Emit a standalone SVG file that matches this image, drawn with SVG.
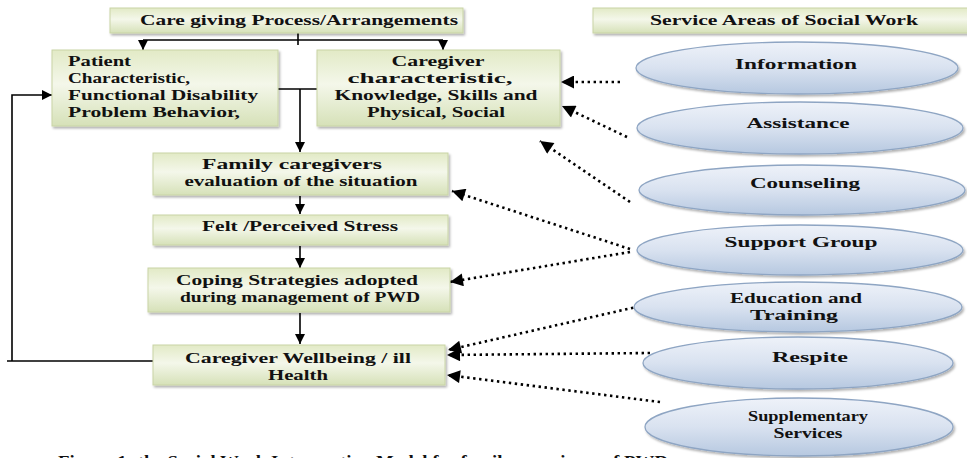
<svg xmlns="http://www.w3.org/2000/svg" width="967" height="458" viewBox="0 0 967 458">
<defs>
<linearGradient id="gb" x1="0" y1="0" x2="0" y2="1">
<stop offset="0" stop-color="#e2eac6"/>
<stop offset="0.45" stop-color="#f4f7ea"/>
<stop offset="1" stop-color="#d6e1b8"/>
</linearGradient>
<linearGradient id="ge" x1="0" y1="0" x2="0" y2="1">
<stop offset="0" stop-color="#eef2f9"/>
<stop offset="0.5" stop-color="#d9e2f0"/>
<stop offset="1" stop-color="#b6c8e0"/>
</linearGradient>
<filter id="sh" x="-10%" y="-20%" width="120%" height="150%">
<feDropShadow dx="1.5" dy="2" stdDeviation="1.2" flood-color="#000" flood-opacity="0.3"/>
</filter>
<marker id="ah" markerUnits="userSpaceOnUse" viewBox="0 0 10 10" refX="10" refY="5" markerWidth="11" markerHeight="10" orient="auto">
<path d="M0,0 L10,5 L0,10 z" fill="#000"/>
</marker>
<marker id="dh" markerUnits="userSpaceOnUse" viewBox="0 0 10 10" refX="10" refY="5" markerWidth="17" markerHeight="13" orient="auto">
<path d="M0,0 L10,5 L0,10 z" fill="#000"/>
</marker>
</defs>
<style>
.box{fill:url(#gb);stroke:#c9d4a6;stroke-width:1;filter:url(#sh)}
.ell{fill:url(#ge);stroke:#8ea5c3;stroke-width:1.3;filter:url(#sh)}
.t{font-family:"Liberation Serif","Times New Roman",serif;font-weight:bold;font-size:15px;fill:#111}
.m{text-anchor:middle}
.sl{fill:none;stroke:#000;stroke-width:1.6}
.dl{fill:none;stroke:#000;stroke-width:2.6;stroke-dasharray:2.4 3.6}
</style>
<rect width="967" height="458" fill="#fff"/>

<g id="connectors">
<line class="sl" x1="298" y1="33" x2="298" y2="45"/>
<line class="sl" x1="143" y1="40" x2="443" y2="40"/>
<line class="sl" x1="143" y1="40" x2="143" y2="50" marker-end="url(#ah)"/>
<line class="sl" x1="443" y1="40" x2="443" y2="50" marker-end="url(#ah)"/>
<line class="sl" x1="278" y1="89" x2="317" y2="89"/>
<line class="sl" x1="300" y1="89" x2="300" y2="152" marker-end="url(#ah)"/>
<line class="sl" x1="300" y1="196" x2="300" y2="214" marker-end="url(#ah)"/>
<line class="sl" x1="300" y1="246" x2="300" y2="268" marker-end="url(#ah)"/>
<line class="sl" x1="300" y1="313" x2="300" y2="344" marker-end="url(#ah)"/>
<path class="sl" d="M153,361 H7"/>
<path class="sl" d="M12,361 V95 H52" marker-end="url(#ah)"/>
<line class="dl" x1="620" y1="82" x2="561" y2="82" marker-end="url(#dh)"/>
<line class="dl" x1="627" y1="137" x2="562" y2="106" marker-end="url(#dh)"/>
<line class="dl" x1="630" y1="202" x2="540" y2="141" marker-end="url(#dh)"/>
<line class="dl" x1="630" y1="249" x2="452" y2="191" marker-end="url(#dh)"/>
<line class="dl" x1="630" y1="252" x2="450" y2="282" marker-end="url(#dh)"/>
<line class="dl" x1="645" y1="305" x2="448" y2="350" marker-end="url(#dh)"/>
<line class="dl" x1="650" y1="353" x2="447" y2="355" marker-end="url(#dh)"/>
<line class="dl" x1="660" y1="402" x2="447" y2="375" marker-end="url(#dh)"/>
</g>

<g id="n-caregiving">
<rect class="box" x="110" y="8" width="353" height="25"/>
<text class="t m" x="299" y="25" textLength="318" lengthAdjust="spacingAndGlyphs">Care giving Process/Arrangements</text>
</g>
<g id="n-service">
<rect class="box" x="593" y="8" width="380" height="25"/>
<text class="t m" x="784" y="25" textLength="268" lengthAdjust="spacingAndGlyphs">Service Areas of Social Work</text>
</g>
<g id="n-patient">
<rect class="box" x="52" y="50" width="226" height="76"/>
<text class="t" x="68" y="66" textLength="63" lengthAdjust="spacingAndGlyphs">Patient</text>
<text class="t" x="68" y="83" textLength="122" lengthAdjust="spacingAndGlyphs">Characteristic,</text>
<text class="t" x="68" y="100" textLength="190" lengthAdjust="spacingAndGlyphs">Functional Disability</text>
<text class="t" x="68" y="117" textLength="172" lengthAdjust="spacingAndGlyphs">Problem Behavior,</text>
</g>
<g id="n-caregiverchar">
<rect class="box" x="317" y="50" width="243" height="76"/>
<text class="t m" x="438" y="66" textLength="93" lengthAdjust="spacingAndGlyphs">Caregiver</text>
<text class="t m" x="430" y="83" textLength="165" lengthAdjust="spacingAndGlyphs">characteristic,</text>
<text class="t m" x="436" y="100" textLength="203" lengthAdjust="spacingAndGlyphs">Knowledge, Skills and</text>
<text class="t m" x="436" y="117" textLength="138" lengthAdjust="spacingAndGlyphs">Physical, Social</text>
</g>
<g id="n-family">
<rect class="box" x="153" y="153" width="295" height="42"/>
<text class="t m" x="292" y="169" textLength="180" lengthAdjust="spacingAndGlyphs">Family caregivers</text>
<text class="t m" x="301" y="186" textLength="233" lengthAdjust="spacingAndGlyphs">evaluation of the situation</text>
</g>
<g id="n-stress">
<rect class="box" x="153" y="215" width="295" height="30"/>
<text class="t m" x="300" y="231" textLength="196" lengthAdjust="spacingAndGlyphs">Felt /Perceived Stress</text>
</g>
<g id="n-coping">
<rect class="box" x="148" y="268" width="302" height="44"/>
<text class="t m" x="297" y="285" textLength="242" lengthAdjust="spacingAndGlyphs">Coping Strategies adopted</text>
<text class="t m" x="300" y="302" textLength="240" lengthAdjust="spacingAndGlyphs">during management of PWD</text>
</g>
<g id="n-wellbeing">
<rect class="box" x="153" y="345" width="292" height="40"/>
<text class="t m" x="298" y="363" textLength="226" lengthAdjust="spacingAndGlyphs">Caregiver Wellbeing / ill</text>
<text class="t m" x="298" y="380" textLength="60" lengthAdjust="spacingAndGlyphs">Health</text>
</g>

<g id="n-information">
<ellipse class="ell" cx="797" cy="68" rx="161" ry="26"/>
<text class="t m" x="796" y="69" textLength="122" lengthAdjust="spacingAndGlyphs">Information</text>
</g>
<g id="n-assistance">
<ellipse class="ell" cx="800" cy="128" rx="163" ry="26"/>
<text class="t m" x="798" y="128" textLength="103" lengthAdjust="spacingAndGlyphs">Assistance</text>
</g>
<g id="n-counseling">
<ellipse class="ell" cx="802" cy="190" rx="163" ry="25"/>
<text class="t m" x="805" y="188" textLength="110" lengthAdjust="spacingAndGlyphs">Counseling</text>
</g>
<g id="n-support">
<ellipse class="ell" cx="800" cy="250" rx="163" ry="25"/>
<text class="t m" x="801" y="247" textLength="153" lengthAdjust="spacingAndGlyphs">Support Group</text>
</g>
<g id="n-education">
<ellipse class="ell" cx="798" cy="307" rx="164" ry="25"/>
<text class="t m" x="796" y="303" textLength="132" lengthAdjust="spacingAndGlyphs">Education and</text>
<text class="t m" x="794" y="320" textLength="88" lengthAdjust="spacingAndGlyphs">Training</text>
</g>
<g id="n-respite">
<ellipse class="ell" cx="798" cy="363" rx="155" ry="26"/>
<text class="t m" x="810" y="362" textLength="76" lengthAdjust="spacingAndGlyphs">Respite</text>
</g>
<g id="n-supplementary">
<ellipse class="ell" cx="799" cy="427" rx="154" ry="29"/>
<text class="t m" x="808" y="421" textLength="120" lengthAdjust="spacingAndGlyphs">Supplementary</text>
<text class="t m" x="808" y="438" textLength="69" lengthAdjust="spacingAndGlyphs">Services</text>
</g>

<text class="t" x="58" y="467" style="font-size:16px" textLength="610" lengthAdjust="spacingAndGlyphs">Figure-1: the Social Work Intervention Model for family caregivers of PWD</text>
</svg>
